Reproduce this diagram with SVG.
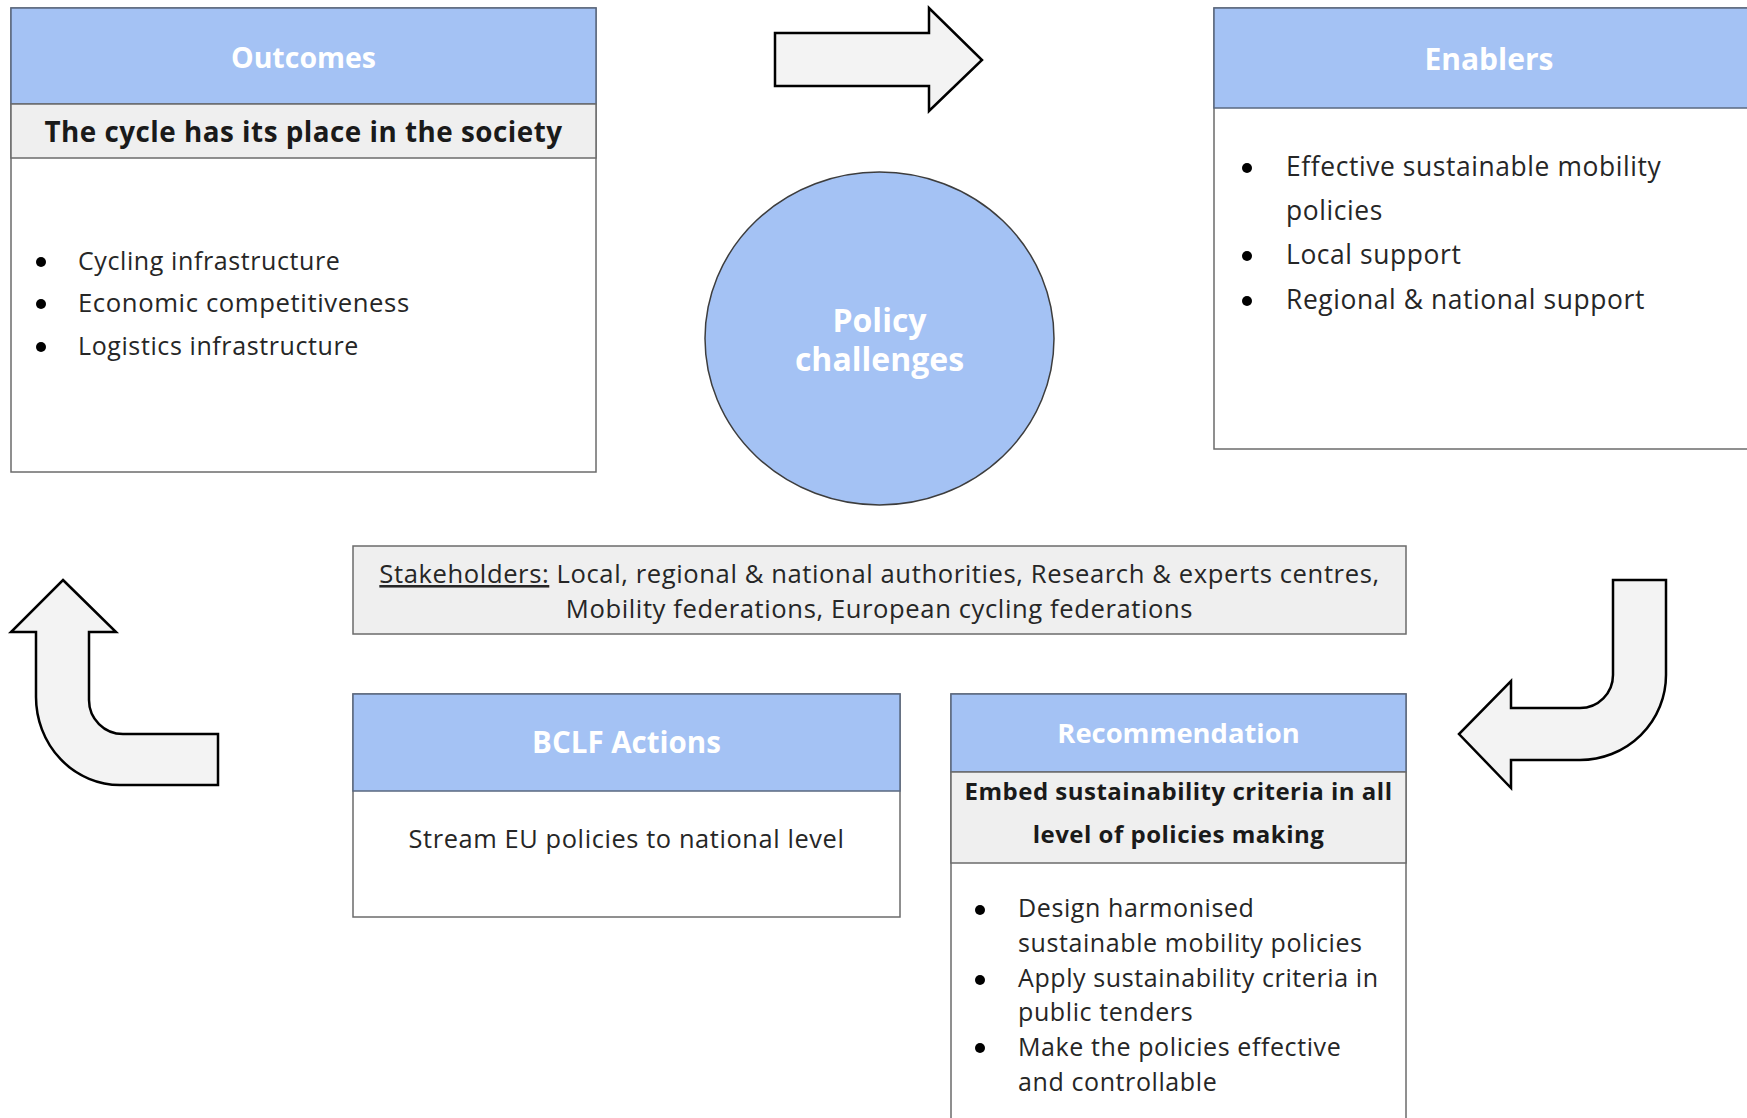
<svg xmlns="http://www.w3.org/2000/svg" width="1747" height="1118" viewBox="0 0 1747 1118">
<style>
.body{fill:#ffffff;stroke:#6b6b6b;stroke-width:1.5}
.hdr{fill:#a4c2f4;stroke:#5a6880;stroke-width:1.5}
.sub{fill:#efefef;stroke:#6b6b6b;stroke-width:1.5}
.ht{font-family:"Open Sans","Liberation Sans",sans-serif;font-weight:700;font-size:29.5px;fill:#ffffff;text-anchor:middle}
.st{font-family:"Open Sans","Liberation Sans",sans-serif;font-weight:700;fill:#1a1a1a;text-anchor:middle}
.t{font-family:"Open Sans","Liberation Sans",sans-serif;font-size:25px;letter-spacing:0.6px;fill:#262626}
.c{text-anchor:middle}
.dot{fill:#000000}
.arrow{fill:#f3f3f3;stroke:#000000;stroke-width:2.5;stroke-linejoin:miter}
</style>
<rect width="1747" height="1118" fill="#ffffff"/>

<g id="connectors">
  <path id="arrow-top" class="arrow" d="M775,33 L929,33 L929,8 L982,60 L929,111 L929,86 L775,86 Z"/>
  <path id="arrow-right" class="arrow" d="M1613,580 L1666,580 L1666,675 A86 85 0 0 1 1580,760 L1511,760 L1511,788 L1459,734 L1511,681 L1511,708 L1580,708 A33 33 0 0 0 1613,675 Z"/>
  <path id="arrow-left" class="arrow" d="M63,580 L116,632 L89,632 L89,700 A34 34 0 0 0 123,734 L218,734 L218,785 L120,785 A84 88 0 0 1 36,697 L36,632 L11,632 Z"/>
</g>

<g id="outcomes">
  <rect class="body" x="11" y="8" width="585" height="464"/>
  <rect class="hdr" x="11" y="8" width="585" height="96"/>
  <rect class="sub" x="11" y="104" width="585" height="54"/>
  <text class="ht" x="303.5" y="68" style="font-size:28.5px">Outcomes</text>
  <text class="st" x="303.5" y="142" style="font-size:27.8px;letter-spacing:0.5px">The cycle has its place in the society</text>
  <circle class="dot" cx="41" cy="262" r="5"/>
  <circle class="dot" cx="41" cy="304" r="5"/>
  <circle class="dot" cx="41" cy="347" r="5"/>
  <text class="t" x="78" y="270">Cycling infrastructure</text>
  <text class="t" x="78" y="312" style="font-size:25.7px">Economic competitiveness</text>
  <text class="t" x="78" y="355">Logistics infrastructure</text>
</g>

<g id="enablers">
  <rect class="body" x="1214" y="8" width="550" height="441"/>
  <rect class="hdr" x="1214" y="8" width="550" height="100"/>
  <text class="ht" x="1489" y="70" style="font-size:30px">Enablers</text>
  <circle class="dot" cx="1247" cy="168" r="5"/>
  <circle class="dot" cx="1247" cy="256" r="5"/>
  <circle class="dot" cx="1247" cy="301" r="5"/>
  <text class="t" x="1286" y="176" style="font-size:26.4px">Effective sustainable mobility</text>
  <text class="t" x="1286" y="220" style="font-size:26.4px">policies</text>
  <text class="t" x="1286" y="264" style="font-size:26.4px">Local support</text>
  <text class="t" x="1286" y="309" style="font-size:26.4px">Regional &amp; national support</text>
</g>

<g id="policy-challenges">
  <ellipse cx="879.5" cy="338.5" rx="174.5" ry="166.5" fill="#a4c2f4" stroke="#3d3d3d" stroke-width="1.5"/>
  <text class="ht" x="879.5" y="332" style="font-size:32px">Policy</text>
  <text class="ht" x="879.5" y="371" style="font-size:32px">challenges</text>
</g>

<g id="stakeholders">
  <rect class="sub" x="353" y="546" width="1053" height="88"/>
  <text class="t c" x="879.5" y="583" style="font-size:25.6px"><tspan text-decoration="underline">Stakeholders:</tspan> Local, regional &amp; national authorities, Research &amp; experts centres,</text>
  <text class="t c" x="879.5" y="618" style="font-size:25.6px">Mobility federations, European cycling federations</text>
</g>

<g id="bclf-actions">
  <rect class="body" x="353" y="694" width="547" height="223"/>
  <rect class="hdr" x="353" y="694" width="547" height="97"/>
  <text class="ht" x="626.5" y="753">BCLF Actions</text>
  <text class="t c" x="626.5" y="848" style="font-size:25.4px">Stream EU policies to national level</text>
</g>

<g id="recommendation">
  <rect class="body" x="951" y="694" width="455" height="440"/>
  <rect class="hdr" x="951" y="694" width="455" height="78"/>
  <rect class="sub" x="951" y="772" width="455" height="91"/>
  <text class="ht" x="1178.5" y="743" style="font-size:27.4px">Recommendation</text>
  <text class="st" x="1178.5" y="800" style="font-size:24px;letter-spacing:0.5px">Embed sustainability criteria in all</text>
  <text class="st" x="1178.5" y="843" style="font-size:24px;letter-spacing:0.5px">level of policies making</text>
  <circle class="dot" cx="980" cy="910" r="5"/>
  <circle class="dot" cx="980" cy="980" r="5"/>
  <circle class="dot" cx="980" cy="1048" r="5"/>
  <text class="t" x="1018" y="917">Design harmonised</text>
  <text class="t" x="1018" y="952">sustainable mobility policies</text>
  <text class="t" x="1018" y="987">Apply sustainability criteria in</text>
  <text class="t" x="1018" y="1021">public tenders</text>
  <text class="t" x="1018" y="1056">Make the policies effective</text>
  <text class="t" x="1018" y="1091">and controllable</text>
</g>
</svg>
